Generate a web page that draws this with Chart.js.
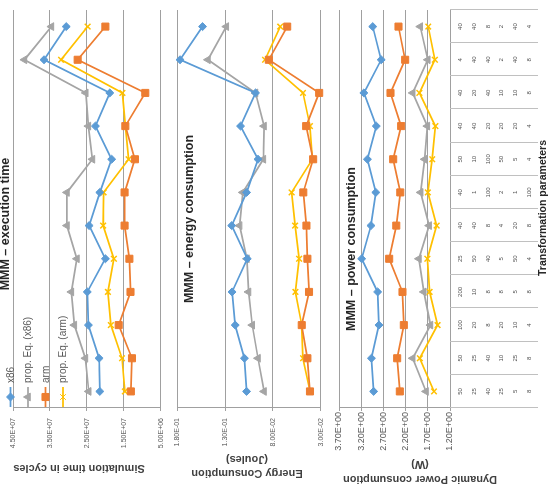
<!DOCTYPE html>
<html><head><meta charset="utf-8">
<script src="https://cdn.jsdelivr.net/npm/chart.js@4.4.1/dist/chart.umd.min.js"></script>
<style>
html,body{margin:0;padding:0;background:#fff;overflow:hidden;width:550px;height:484px;}
#root{position:absolute;left:0;top:0;width:484px;height:550px;transform-origin:0 0;transform:translate(0,484px) rotate(-90deg);font-family:"Liberation Sans",Arial,sans-serif;background:#fff;}
canvas{position:absolute;left:0;}
.t{position:absolute;white-space:nowrap;text-align:center;}
.title{font-weight:bold;font-size:12.5px;color:#262626;line-height:14px;width:300px;height:14px;}
.ax{font-weight:bold;font-size:11px;color:#404040;line-height:14px;width:200px;transform:rotate(-90deg);}
</style></head><body>
<div id="root">
<canvas id="c1" width="484" height="172" style="top:0px"></canvas>
<canvas id="c2" width="484" height="166" style="top:166px"></canvas>
<canvas id="c3" width="484" height="220" style="top:330px"></canvas>
<div class="t title" style="left:110px;top:-2px">MMM – execution time</div>
<div class="t title" style="left:115px;top:182px">MMM – energy consumption</div>
<div class="t title" style="left:85px;top:344px">MMM – power consumption</div>
<div class="t ax" style="left:-85px;top:72px;height:14px">Simulation time in cycles</div>
<div class="t ax" style="left:-83px;top:233px;height:28px">Energy Consumption<br>(Joules)</div>
<div class="t ax" style="left:-88px;top:405px;height:30px;line-height:15px">Dynamic Power consumption<br>(W)</div>
<div class="t" style="left:126px;top:535px;width:300px;font-weight:bold;font-size:10.5px;line-height:14px;color:#262626">Transformation parameters</div>
</div>
<script>
// ---- data ----
const seriesNames = ['x86', 'prop. Eq. (x86)', 'arm', 'prop. Eq. (arm)'];
// transformation parameters (one row of the data table per array, one value per category)
const paramRow1 = [50, 50, 100, 200, 25, 40, 40, 50, 40, 40, 4, 40];
const paramRow2 = [25, 25, 20, 10, 50, 40, 1, 10, 40, 20, 40, 40];
const paramRow3 = [40, 40, 8, 8, 40, 8, 100, 100, 20, 40, 40, 8];
const paramRow4 = [25, 10, 20, 8, 5, 4, 2, 50, 20, 10, 2, 2];
const paramRow5 = [5, 25, 10, 5, 50, 20, 1, 5, 20, 10, 40, 40];
const paramRow6 = [8, 8, 4, 8, 4, 8, 100, 4, 4, 8, 8, 4];
const categories = paramRow1.map((v, i) => [v, paramRow2[i], paramRow3[i], paramRow4[i], paramRow5[i], paramRow6[i]].join('/'));

// execution time (cycles)
const execX86     = [2.15e7, 2.17e7, 2.46e7, 2.49e7, 2.00e7, 2.44e7, 2.15e7, 1.83e7, 2.27e7, 1.88e7, 3.66e7, 3.06e7];
const execPropX86 = [2.45e7, 2.54e7, 2.84e7, 2.92e7, 2.77e7, 3.04e7, 3.04e7, 2.35e7, 2.46e7, 2.53e7, 4.19e7, 3.46e7];
const execArm     = [1.31e7, 1.28e7, 1.64e7, 1.32e7, 1.35e7, 1.48e7, 1.48e7, 1.20e7, 1.46e7, 0.92e7, 2.75e7, 2.00e7];
const execPropArm = [1.47e7, 1.55e7, 1.85e7, 1.93e7, 1.77e7, 2.06e7, 2.05e7, 1.37e7, 1.46e7, 1.54e7, 3.20e7, 2.48e7];
const execTicks   = [5e6, 1.5e7, 2.5e7, 3.5e7, 4.5e7];

// energy consumption (J)
const enX86     = [0.1075, 0.1098, 0.1194, 0.1227, 0.1068, 0.1231, 0.1075, 0.0956, 0.1138, 0.0982, 0.1770, 0.1535];
const enPropX86 = [0.0893, 0.0956, 0.1016, 0.1055, 0.1072, 0.1148, 0.1115, 0.0900, 0.0893, 0.0982, 0.1479, 0.1287];
const enArm     = [0.0413, 0.0440, 0.0499, 0.0423, 0.0440, 0.0450, 0.0483, 0.0380, 0.0453, 0.0317, 0.0843, 0.0651];
const enPropArm = [0.0413, 0.0486, 0.0499, 0.0565, 0.0526, 0.0569, 0.0605, 0.0387, 0.0413, 0.0486, 0.0883, 0.0724];
const enTicks   = [0.03, 0.08, 0.13, 0.18];

// dynamic power (W)
const pwX86     = [2.92, 2.97, 2.80, 2.83, 3.19, 2.98, 2.87, 3.06, 2.86, 3.14, 2.75, 2.94];
const pwPropX86 = [1.74, 2.04, 1.64, 1.79, 1.90, 1.67, 1.86, 1.77, 1.71, 2.04, 1.70, 1.87];
const pwArm     = [2.33, 2.39, 2.24, 2.27, 2.57, 2.41, 2.32, 2.48, 2.30, 2.54, 2.21, 2.36];
const pwPropArm = [1.56, 1.88, 1.48, 1.66, 1.71, 1.50, 1.70, 1.60, 1.53, 1.89, 1.54, 1.69];
const pwTicks   = [1.2, 1.7, 2.2, 2.7, 3.2, 3.7];

// ---- style ----
const FONT = '"Liberation Sans", Arial, sans-serif';
const looks = [
  {color:'#5B9BD5', pointStyle:'rectRot',  r:4},
  {color:'#A5A5A5', pointStyle:'triangle', r:4.5},
  {color:'#ED7D31', pointStyle:'rect',     r:5},
  {color:'#FFC000', pointStyle:'crossRot', r:4}
];
const GRID = '#a0a0a0';

function fmt(v){
  const s = Number(v).toExponential(2);
  const [m, e] = s.split('e');
  return m + 'E' + e[0] + e.slice(1).padStart(2, '0');
}

function datasets(arrs){
  return arrs.map((d, i) => ({
    label: seriesNames[i], data: d,
    borderColor: looks[i].color, backgroundColor: looks[i].color,
    borderWidth: 1.75, tension: 0, clip: false,
    pointStyle: looks[i].pointStyle, pointRadius: looks[i].r,
    pointBackgroundColor: looks[i].color, pointBorderColor: looks[i].color,
    pointBorderWidth: looks[i].pointStyle === 'crossRot' ? 1.5 : 1
  }));
}

function drawMarker(ctx, style, r, x, y){
  if (Chart.helpers && Chart.helpers.drawPoint) {
    Chart.helpers.drawPoint(ctx, {pointStyle: style, radius: r, borderWidth: style === 'crossRot' ? 1.5 : 1, rotation: 0}, x, y);
  }
}

const legendPlugin = {
  id: 'legendBox',
  afterDraw(chart){
    const ctx = chart.ctx;
    const ys = [10.5, 28, 45.5, 63];
    ctx.save();
    chart.data.datasets.forEach((ds, i) => {
      const y = ys[i];
      ctx.strokeStyle = looks[i].color; ctx.fillStyle = looks[i].color; ctx.lineWidth = 1.75;
      ctx.beginPath(); ctx.moveTo(77, y); ctx.lineTo(97, y); ctx.stroke();
      ctx.lineWidth = 1;
      drawMarker(ctx, looks[i].pointStyle, looks[i].r, 87, y);
      ctx.fillStyle = '#595959';
      ctx.font = '10px ' + FONT;
      ctx.textAlign = 'left'; ctx.textBaseline = 'middle';
      ctx.fillText(ds.label, 101, y + 0.5);
    });
    ctx.restore();
  }
};

const paramRows = [paramRow1, paramRow2, paramRow3, paramRow4, paramRow5, paramRow6];
const tablePlugin = {
  id: 'dataTable',
  afterDraw(chart){
    const ctx = chart.ctx, xs = chart.scales.x, ca = chart.chartArea;
    const n = categories.length;
    const px = i => xs.getPixelForValue(i);
    const half = (px(1) - px(0)) / 2;
    const top = ca.bottom;
    ctx.save();
    ctx.strokeStyle = '#c0c0c0'; ctx.lineWidth = 1;
    for (let i = 0; i <= n; i++) {
      const x = Math.round(i < n ? px(i) - half : px(n - 1) + half) + 0.5;
      ctx.beginPath(); ctx.moveTo(x, top); ctx.lineTo(x, top + 88); ctx.stroke();
    }
    ctx.fillStyle = '#595959';
    ctx.font = '6px ' + FONT;
    ctx.textAlign = 'center'; ctx.textBaseline = 'middle';
    paramRows.forEach((row, r) => {
      row.forEach((v, i) => ctx.fillText(String(v), px(i), top + 10.5 + r * 13.75));
    });
    ctx.restore();
  }
};

function mk(id, arrs, ticksArr, fontSize, pad, padTop, padBottom, plugins){
  const mn = ticksArr[0], mx = ticksArr[ticksArr.length - 1];
  return new Chart(document.getElementById(id), {
    type: 'line',
    data: {labels: categories, datasets: datasets(arrs)},
    options: {
      responsive: false, animation: false, devicePixelRatio: 1,
      layout: {padding: {top: padTop, bottom: padBottom, left: 0, right: 10}},
      plugins: {legend: {display: false}, tooltip: {enabled: false}, title: {display: false}},
      scales: {
        x: {type: 'category', display: false, offset: true},
        y: {
          min: mn, max: mx,
          afterBuildTicks: s => { s.ticks = ticksArr.map(v => ({value: v})); },
          afterFit: s => { s.width = 76; },
          ticks: {callback: v => fmt(v), font: {size: fontSize, family: FONT}, color: '#595959', padding: pad},
          grid: {color: GRID, tickLength: 3, lineWidth: 1},
          border: {display: true, color: GRID, width: 1}
        }
      }
    },
    plugins: plugins
  });
}

mk('c1', [execX86, execPropX86, execArm, execPropArm], execTicks, 7, 7, 13, 8, [legendPlugin]);
mk('c2', [enX86, enPropX86, enArm, enPropArm], enTicks, 7, 7, 8, 7, []);
mk('c3', [pwX86, pwPropX86, pwArm, pwPropArm], pwTicks, 9, 1, 9, 100, [tablePlugin]);
</script>
</body></html>
